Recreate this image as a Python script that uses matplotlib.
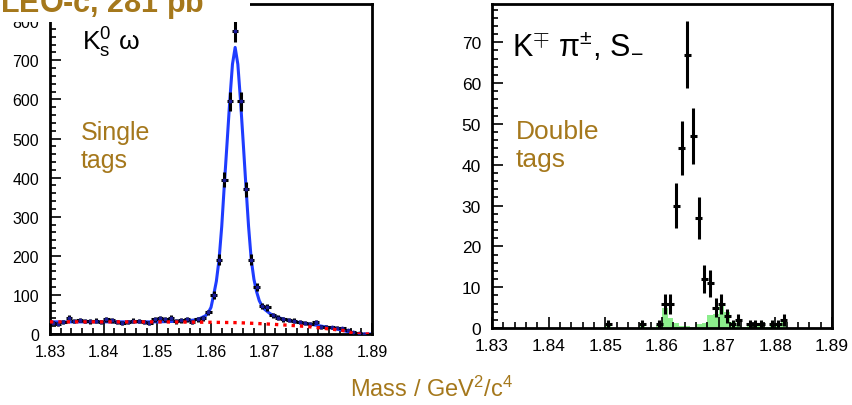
import matplotlib.pyplot as plt
import numpy as np
from matplotlib.patches import Rectangle
from matplotlib.ticker import MultipleLocator

plt.rcParams["font.family"] = ["Liberation Sans", "DejaVu Sans"]
plt.rcParams["mathtext.fontset"] = "custom"
plt.rcParams["mathtext.rm"] = "Liberation Sans"
plt.rcParams["mathtext.it"] = "Liberation Sans:italic"
plt.rcParams["mathtext.bf"] = "Liberation Sans:bold"

BROWN = "#a5781c"

# 60 bins of 1 MeV between 1.83 and 1.89 GeV
bin_edges = np.linspace(1.83, 1.89, 61)
bin_centers = 0.5 * (bin_edges[:-1] + bin_edges[1:])

# single tags, K0s omega
single_counts = [
    28, 25, 30, 42, 33, 36, 33, 32, 34, 30,
    38, 35, 30, 28, 31, 34, 33, 30, 28, 38,
    40, 38, 42, 32, 35, 38, 30, 38, 40, 55,
    100, 190, 395, 595, 775, 595, 370, 190, 120, 72,
    68, 48, 42, 38, 36, 34, 30, 28, 26, 30,
    18, 18, 17, 16, 15, 10, 4, 2, 1, 0,
]

# total fit (signal + background)
fit_mass = [1.830, 1.840, 1.850, 1.855, 1.857, 1.858, 1.859, 1.8595, 1.860,
            1.8605, 1.861, 1.8615, 1.862, 1.8625, 1.863, 1.8635, 1.864,
            1.8645, 1.865, 1.8655, 1.866, 1.8665, 1.867, 1.8675, 1.868,
            1.8685, 1.869, 1.8695, 1.870, 1.871, 1.872, 1.873, 1.875, 1.877,
            1.879, 1.881, 1.883, 1.885, 1.886, 1.8865, 1.890]
fit_total = [31, 31, 31, 33, 36, 40, 47, 55, 68,
             100, 135, 190, 275, 385, 490, 597, 690,
             733, 690, 597, 490, 380, 275, 190, 140,
             108, 85, 72, 63, 52, 45, 40, 33, 28,
             24, 19, 14, 8, 3, 0, 0]

# background component (red dotted)
bkg_mass = [1.830, 1.850, 1.860, 1.865, 1.870, 1.875, 1.878, 1.880, 1.882,
            1.884, 1.885, 1.886, 1.8865, 1.890]
bkg_fit = [31, 31, 30, 29, 26, 22, 19, 16, 13, 10, 8, 4, 0, 0]

# double tags, K-+ pi+-, S-
double_counts = [
    0, 0, 0, 0, 0, 0, 0, 0, 0, 0,
    0, 0, 0, 0, 0, 0, 0, 0, 0, 0,
    1, 0, 0, 0, 0, 0, 1, 0, 0, 1,
    6, 6, 30, 44, 67, 47, 27, 12, 11, 5,
    6, 3, 1, 2, 0, 1, 1, 1, 0, 1,
    1, 2, 0, 0, 0, 0, 0, 0, 0, 0,
]
double_bkg = [
    0, 0, 0, 0, 0, 0, 0, 0, 0, 0,
    0, 0, 0, 0, 0, 0, 0, 0, 0, 0,
    0.5, 0, 0, 0, 0, 0, 0.6, 0, 0, 0.8,
    5, 2.5, 1.2, 0.6, 0.4, 0.3, 1.0, 1.2, 3.2, 3.5,
    6, 4, 1.5, 0.8, 0.3, 0.4, 0.4, 0.4, 0.2, 0.6,
    1.2, 1.5, 0, 0, 0, 0, 0, 0, 0, 0,
]


def draw_points(ax, counts, marker_color):
    counts = np.asarray(counts, dtype=float)
    keep = counts > 0
    ax.errorbar(bin_centers[keep], counts[keep], yerr=np.sqrt(counts[keep]),
                xerr=0.0006, fmt="o", ms=1.8, color=marker_color, mec=marker_color,
                ecolor="black", elinewidth=2.2, capsize=0, zorder=3)


def style_axes(ax, ymax, major, minor, labelsize):
    ax.set_xlim(1.83, 1.89)
    ax.set_ylim(0, ymax)
    ax.xaxis.set_major_locator(MultipleLocator(0.01))
    ax.xaxis.set_minor_locator(MultipleLocator(0.002))
    ax.yaxis.set_major_locator(MultipleLocator(major))
    ax.yaxis.set_minor_locator(MultipleLocator(minor))
    ax.set_xticklabels([f"{t:.2f}" for t in ax.get_xticks()])
    ax.tick_params(which="both", direction="in", top=False, right=False,
                   width=1.2, labelsize=labelsize)
    ax.tick_params(which="major", length=8)
    ax.tick_params(which="minor", length=4)
    ax.tick_params(axis="x", pad=7)
    ax.tick_params(axis="y", pad=8)
    for side in ax.spines.values():
        side.set_linewidth(2)


fig = plt.figure(figsize=(8.52, 4.06), dpi=100)

# left: single tags
ax1 = fig.add_axes([50 / 852, 71 / 406, 322 / 852, 330 / 406])
draw_points(ax1, single_counts, "#1a1a99")
ax1.plot(fit_mass, fit_total, color="#1f3cff", lw=2.2, zorder=2)
ax1.plot(bkg_mass, bkg_fit, color="red", ls=(0, (1, 1.5)), lw=2.4, zorder=4)
style_axes(ax1, 844, 100, 20, 11.5)
ax1.text(0.1, 0.885, r"K$^0_\mathrm{s}$ ω", transform=ax1.transAxes,
         fontsize=19, va="center", ha="left")
ax1.text(0.095, 0.57, "Single\ntags", transform=ax1.transAxes, color=BROWN,
         fontsize=18, va="center", ha="left", linespacing=1.2)

# right: double tags
ax2 = fig.add_axes([492 / 852, 77 / 406, 340 / 852, 324.5 / 406])
ax2.stairs(double_bkg, bin_edges, fill=True, color="#8cee8c", zorder=1)
draw_points(ax2, double_counts, "black")
style_axes(ax2, 79.5, 10, 2, 12.5)
ax2.text(0.06, 0.87, r"K$^{\mp}$ π$^{\pm}$, S$_{-}$", transform=ax2.transAxes,
         fontsize=22, va="center", ha="left")
ax2.text(0.07, 0.565, "Double\ntags", transform=ax2.transAxes, color=BROWN,
         fontsize=19, va="center", ha="left", linespacing=1.2)

fig.text(431 / 852, 1 - 389 / 406, r"Mass / GeV$^2$/c$^4$", color=BROWN,
         fontsize=17, ha="center", va="center")

# title block at the top left (cut by the crop)
fig.add_artist(Rectangle((0, 1 - 23 / 406), 250 / 852, 23 / 406,
                         transform=fig.transFigure, facecolor="white",
                         edgecolor="none", zorder=10))
fig.text(-22 / 852, 1 - 13 / 406, r"CLEO-c, 281 pb$^{\mathbf{-1}}$", color=BROWN,
         fontsize=22, fontweight="bold", ha="left", va="baseline", zorder=11)

fig.savefig("out.png", dpi=100)
